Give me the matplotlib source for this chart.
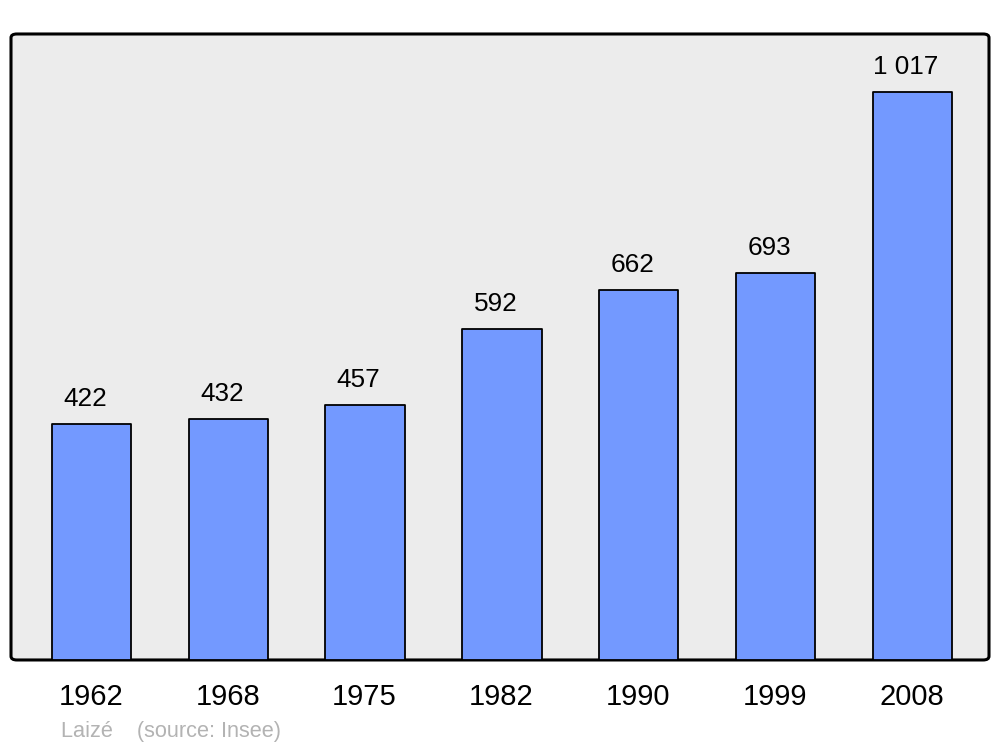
import matplotlib
matplotlib.use("Agg")
import matplotlib.pyplot as plt
from matplotlib.patches import FancyBboxPatch

# population data
years = ["1962", "1968", "1975", "1982", "1990", "1999", "2008"]
population = [422, 432, 457, 592, 662, 693, 1017]
value_labels = ["422", "432", "457", "592", "662", "693", "1 017"]
caption = "Laizé    (source: Insee)"

plt.rcParams["font.family"] = ["Liberation Sans", "DejaVu Sans"]

fig = plt.figure(figsize=(10, 7.47), dpi=100)
ax = fig.add_axes([0.011, 0.1165, 0.978, 0.838])
ax.set_facecolor("none")

# rounded frame instead of spines
frame = FancyBboxPatch((0, 0), 1, 1, boxstyle="round,pad=0,rounding_size=0.006",
                       transform=ax.transAxes, facecolor="#ececec", edgecolor="black",
                       linewidth=2.2, zorder=0, clip_on=False)
ax.add_patch(frame)
for s in ax.spines.values():
    s.set_visible(False)

xs = list(range(len(years)))
bars = ax.bar([x + 0.004 for x in xs], population, width=0.58, color="#7399ff",
              edgecolor="black", linewidth=1.3, zorder=2)
for b in bars:
    b.set_joinstyle("round")

for x, v, lab in zip(xs, population, value_labels):
    ax.annotate(lab, (x, v), xytext=(-4.3, 13), textcoords="offset points",
                ha="center", va="baseline", fontsize=18.8)

ax.set_xlim(-0.585, 6.565)
ax.set_ylim(0, max(population) * 1.102)
ax.set_xticks(xs)
ax.set_xticklabels(years, fontsize=21)
ax.tick_params(axis="x", length=0, pad=16.5)
ax.set_yticks([])

fig.text(0.061, 0.013, caption, fontsize=15.7, color="#b3b3b3", ha="left", va="baseline")

fig.savefig("out.png", dpi=100)
